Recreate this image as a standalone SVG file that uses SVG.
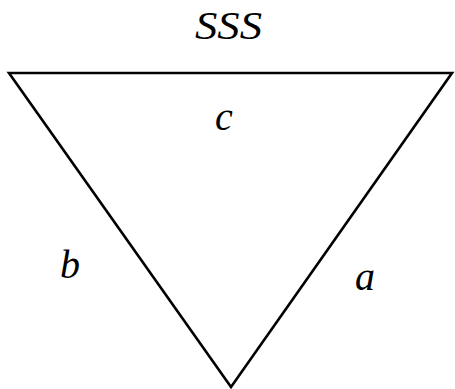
<svg xmlns="http://www.w3.org/2000/svg" width="455" height="389" viewBox="0 0 455 389">
<style>
.lbl{font-family:"Liberation Serif","Times New Roman",serif;font-style:italic;font-size:40px;fill:#000}
.edge{fill:none;stroke:#000;stroke-width:2.6;stroke-linejoin:miter}
</style>
<rect width="455" height="389" fill="#fff"/>
<g id="connectors">
<polygon class="edge" points="9,73 452,73 231,387"/>
</g>
<g id="title"><text class="lbl" x="228.5" y="39" text-anchor="middle" textLength="67" lengthAdjust="spacingAndGlyphs">SSS</text></g>
<g id="label-c"><text class="lbl" x="224" y="130" text-anchor="middle">c</text></g>
<g id="label-b"><text class="lbl" x="70" y="278" text-anchor="middle">b</text></g>
<g id="label-a"><text class="lbl" x="365" y="290" text-anchor="middle">a</text></g>
</svg>
